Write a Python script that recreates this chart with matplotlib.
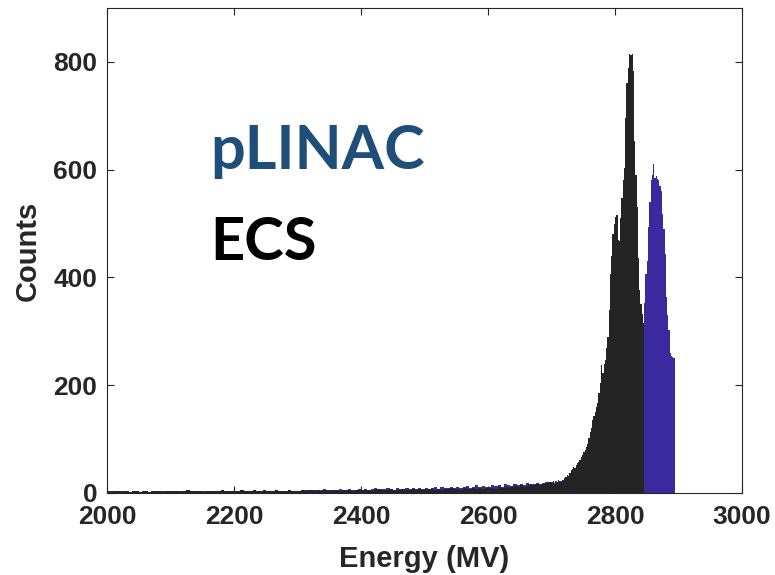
import numpy as np
import matplotlib
matplotlib.use("Agg")
import matplotlib.pyplot as plt

# Energy spectra (counts per bin). Coarse 5 MV bins over the low-energy tail,
# 2 MV bins across the peak region.
tail_lo, tail_hi, tail_step = 2000, 2700, 5
peak_lo, peak_hi, peak_step = 2700, 2900, 2

ecs_tail = [
    3, 2, 4, 3, 2, 3, 4, 2, 3, 3, 2, 4, 3, 2, 3, 3, 4, 2, 3, 3,
    3, 4, 3, 2, 3, 5, 3, 4, 3, 3, 2, 4, 3, 3, 4, 3, 5, 3, 4, 3,
    4, 3, 5, 4, 3, 4, 6, 3, 4, 5, 4, 3, 4, 5, 4, 4, 3, 5, 4, 4,
    4, 5, 4, 6, 5, 4, 5, 4, 6, 5, 4, 5, 6, 4, 5, 6, 5, 4, 6, 5,
    5, 6, 5, 4, 6, 7, 5, 6, 5, 7, 6, 5, 6, 7, 6, 5, 7, 6, 8, 6,
    6, 7, 8, 6, 7, 6, 8, 7, 9, 7, 8, 6, 9, 8, 7, 9, 8, 10, 8, 9,
    9, 10, 8, 11, 9, 12, 10, 11, 13, 12, 14, 12, 13, 15, 14, 16, 15, 17, 18, 20,
]
plinac_tail = [
    2, 3, 2, 2, 3, 2, 3, 2, 2, 3, 2, 3, 2, 2, 2, 3, 2, 3, 2, 2,
    2, 3, 2, 3, 2, 3, 2, 3, 3, 2, 3, 2, 3, 2, 3, 2, 3, 3, 2, 3,
    3, 2, 3, 3, 4, 3, 2, 3, 3, 4, 3, 3, 2, 4, 3, 3, 4, 3, 3, 4,
    4, 3, 5, 4, 4, 6, 4, 5, 7, 4, 6, 5, 4, 7, 5, 6, 8, 5, 6, 7,
    6, 8, 5, 7, 9, 6, 8, 7, 10, 7, 6, 9, 8, 7, 10, 8, 9, 7, 10, 8,
    9, 8, 10, 11, 8, 12, 9, 10, 11, 9, 12, 10, 11, 13, 10, 12, 14, 11, 13, 12,
    12, 14, 13, 15, 12, 16, 14, 13, 17, 15, 16, 14, 18, 16, 17, 19, 16, 18, 20, 19,
]
ecs_peak = [
    18, 20, 17, 19, 21, 18, 22, 20, 24, 23,
    27, 30, 33, 31, 38, 42, 45, 48, 47, 52,
    55, 57, 62, 66, 71, 76, 80, 86, 91, 102,
    113, 120, 135, 142, 150, 160, 167, 185, 204, 237,
    222, 240, 246, 270, 290, 340, 407, 440, 481, 500,
    512, 515, 470, 468, 510, 548, 580, 604, 696, 760,
    789, 815, 812, 815, 783, 654, 590, 530, 437, 376,
    350, 333, 315, 0, 0, 0, 0, 0, 0, 0,
    0, 0, 0, 0, 0, 0, 0, 0, 0, 0,
    0, 0, 0, 0, 0, 0, 0, 0, 0, 0,
]
plinac_peak = [
    20, 22, 19, 23, 20, 24, 21, 22, 20, 24,
    22, 25, 24, 26, 28, 27, 30, 32, 34, 36,
    38, 40, 43, 46, 50, 54, 58, 62, 66, 72,
    78, 84, 92, 100, 108, 116, 125, 135, 146, 158,
    170, 182, 195, 210, 225, 240, 255, 268, 280, 290,
    300, 305, 300, 295, 290, 285, 280, 278, 280, 285,
    290, 295, 298, 300, 302, 305, 300, 295, 290, 295,
    300, 310, 312, 352, 407, 430, 493, 540, 580, 590,
    611, 585, 588, 583, 580, 570, 561, 518, 490, 444,
    363, 330, 302, 259, 255, 252, 250, 0, 0, 0,
]

x_ticks = [2000, 2200, 2400, 2600, 2800, 3000]
y_ticks = [0, 200, 400, 600, 800]

edges = np.concatenate([
    np.arange(tail_lo, tail_hi, tail_step),
    np.arange(peak_lo, peak_hi + peak_step, peak_step),
])
ecs = np.array(ecs_tail + ecs_peak, dtype=float)
plinac = np.array(plinac_tail + plinac_peak, dtype=float)

axis_color = "#262626"
plt.rcParams["font.family"] = ["Liberation Sans", "DejaVu Sans"]

fig = plt.figure(figsize=(7.75, 5.75), dpi=100)
ax = fig.add_axes([107 / 775, 1 - 493 / 575, 635 / 775, 485 / 575])

ax.stairs(plinac, edges, fill=True, color="#3B2A9E", linewidth=0)
ax.stairs(ecs, edges, fill=True, color="#242424", linewidth=0)

ax.set_xlim(2000, 3000)
ax.set_ylim(0, 900)
ax.set_xticks(x_ticks)
ax.set_yticks(y_ticks)
ax.tick_params(direction="in", top=True, right=True, length=5, width=0.8,
               color=axis_color, labelcolor=axis_color, labelsize=19)
ax.tick_params(axis="x", pad=9)
ax.tick_params(axis="y", pad=7)
for lbl in ax.get_xticklabels() + ax.get_yticklabels():
    lbl.set_fontweight("bold")
for sp in ax.spines.values():
    sp.set_color(axis_color)
    sp.set_linewidth(0.8)

ax.set_xlabel("Energy (MV)", fontsize=21, fontweight="bold", color=axis_color)
ax.set_ylabel("Counts", fontsize=21, fontweight="bold", color=axis_color)
ax.xaxis.set_label_coords(0.5, -0.108)
ax.yaxis.set_label_coords(-0.102, 0.5)

ax.text(2162, 602, "pLINAC", fontsize=44, fontweight="bold", color="#1F4E79",
        family=["Lato", "DejaVu Sans"], ha="left", va="baseline")
ax.text(2162, 433, "ECS", fontsize=43, fontweight="bold", color="#000000",
        family=["Lato", "DejaVu Sans"], ha="left", va="baseline")

fig.savefig("out.png", dpi=100)
